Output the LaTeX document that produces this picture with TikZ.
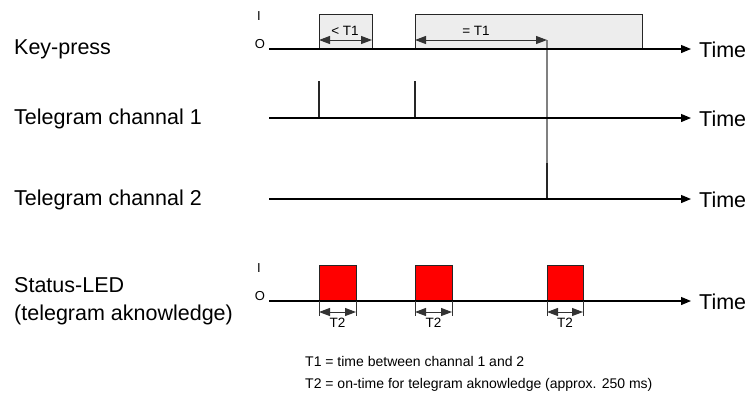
\documentclass[tikz,border=0pt]{standalone}
\usepackage{fontspec}
\setmainfont{Liberation Sans}
\usetikzlibrary{arrows.meta}
\begin{document}
\begin{tikzpicture}[x=1pt,y=-1pt,
  axisline/.style={line width=1.2pt, -{Triangle[length=10pt,width=8pt]}},
  lbl/.style={font=\fontsize{21.5}{24}\selectfont, anchor=base west, inner sep=0pt},
  tm/.style={font=\fontsize{21.5}{24}\selectfont, anchor=base west, inner sep=0pt},
  io/.style={font=\fontsize{13}{15}\selectfont, inner sep=0pt},
  dimline/.style={line width=1pt, draw=black!80, {Triangle[length=11pt,width=8pt]}-{Triangle[length=11pt,width=8pt]}},
  ext/.style={line width=0.9pt, draw=black!80},
  small/.style={font=\fontsize{13.5}{15}\selectfont, inner sep=0pt},
  note/.style={font=\fontsize{14}{16}\selectfont, anchor=base west, inner sep=0pt},
  keybox/.style={draw=black!85, fill=black!7, line width=1pt},
  led/.style={draw=black!85, fill=red, line width=1pt},
  pulse/.style={line width=1.1pt, draw=black!85},
  link/.style={line width=1.1pt, draw=black!50},
]
\useasboundingbox (0,0) rectangle (750,392);

% left labels
\node[lbl] (lkey) at (14,54) {Key-press};
\node[lbl] (lch1) at (14,124) {Telegram channal 1};
\node[lbl] (lch2) at (14,205) {Telegram channal 2};
\node[lbl] (lleda) at (14,292) {Status-LED};
\node[lbl] (lledb) at (14,320) {(telegram aknowledge)};

% coordinates
\coordinate (k0) at (269,49);  \coordinate (k1) at (691,49);
\coordinate (c10) at (269,118); \coordinate (c11) at (691,118);
\coordinate (c20) at (269,199); \coordinate (c21) at (691,199);
\coordinate (s0) at (269,301);  \coordinate (s1) at (691,301);

% key-press boxes
\coordinate (kb1a) at (319,49); \coordinate (kb1b) at (372,14);
\coordinate (kb2a) at (415,49); \coordinate (kb2b) at (642,14);
\draw[keybox] (kb1a) rectangle (kb1b);
\draw[keybox] (kb2a) rectangle (kb2b);

% LED boxes
\coordinate (la1) at (319,301); \coordinate (lb1) at (356,265);
\coordinate (la2) at (415,301); \coordinate (lb2) at (452,265);
\coordinate (la3) at (547,301); \coordinate (lb3) at (583,265);
\draw[led] (la1) rectangle (lb1);
\draw[led] (la2) rectangle (lb2);
\draw[led] (la3) rectangle (lb3);

% link from T1 end down to channel 2
\coordinate (t1e) at (547,40);
\coordinate (p2top) at (547,163);
\coordinate (p2bot) at (547,199);
\draw[link] (t1e) -- (p2bot);
\draw[pulse] (p2top) -- (p2bot);

% channel 1 pulses
\coordinate (p1a) at (319,81); \coordinate (p1b) at (319,118);
\coordinate (p1c) at (415,81); \coordinate (p1d) at (415,118);
\draw[pulse] (p1a) -- (p1b);
\draw[pulse] (p1c) -- (p1d);

% axes
\draw[axisline] (k0) -- (k1);
\draw[axisline] (c10) -- (c11);
\draw[axisline] (c20) -- (c21);
\draw[axisline] (s0) -- (s1);

% Time labels
\node[tm] (tk) at (699,57) {Time};
\node[tm] (t1) at (699,126) {Time};
\node[tm] (t2) at (699,207) {Time};
\node[tm] (ts) at (699,309) {Time};

% I / O labels
\node[io] (ik) at (259,16) {I};
\node[io] (ok) at (260,44) {O};
\node[io] (is) at (259,268) {I};
\node[io] (os) at (260,296) {O};

% T1 dimensions
\coordinate (d1a) at (319,40); \coordinate (d1b) at (372,40);
\coordinate (d2a) at (415,40);
\draw[dimline] (d1a) -- (d1b);
\draw[dimline] (d2a) -- (t1e);
\node[small] (lt1a) at (345,31) {< T1};
\node[small] (lt1b) at (476,31) {= T1};

% T2 dimensions
\foreach \a/\b/\n in {319/356/1, 415/452/2, 547/583/3}{
  \coordinate (ea\n) at (\a,301); \coordinate (eb\n) at (\a,316);
  \coordinate (ec\n) at (\b,301); \coordinate (ed\n) at (\b,316);
  \coordinate (da\n) at (\a,312); \coordinate (db\n) at (\b,312);
  \draw[ext] (ea\n) -- (eb\n);
  \draw[ext] (ec\n) -- (ed\n);
  \draw[dimline] (da\n) -- (db\n);
  \node[small] (lt2\n) at ({(\a+\b)/2},323) {T2};
}

% notes
\node[note] (n1) at (305,366) {T1 = time between channal 1 and 2};
\node[note] (n2) at (305,388) {T2 = on-time for telegram aknowledge (approx. 250 ms)};
\end{tikzpicture}
\end{document}
